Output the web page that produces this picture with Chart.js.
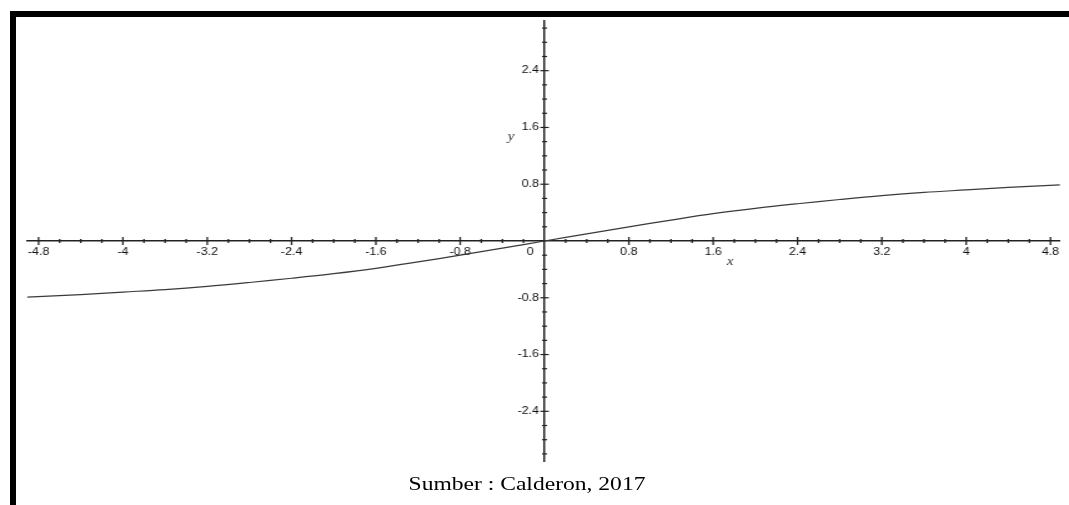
<!DOCTYPE html>
<html>
<head>
<meta charset="utf-8">
<script src="https://cdn.jsdelivr.net/npm/chart.js@4"></script>
<style>
html,body{margin:0;padding:0;background:#fff;width:1069px;height:505px;overflow:hidden;position:relative}
#topbar{position:absolute;left:10px;top:11px;width:1059px;height:6px;background:#000}
#leftbar{position:absolute;left:10px;top:11px;width:6px;height:494px;background:#000}
#wrap{position:absolute;left:0;top:0;width:856px;height:505px;transform:scaleX(1.2488);transform-origin:0 0}
#caption{position:absolute;left:527px;top:474px;font:19px/19px "Liberation Serif","Times New Roman",serif;color:#000;white-space:nowrap;transform:translateX(-50%) scaleX(1.24)}
</style>
</head>
<body>
<div id="topbar"></div>
<div id="leftbar"></div>
<div id="wrap"><canvas id="c" width="856" height="505" style="width:856px;height:505px"></canvas></div>
<div id="caption">Sumber : Calderon, 2017</div>
<script>
// ---- data ----
const xValues = [-4.91, -4.4, -4.0, -3.6, -3.2, -2.8, -2.4, -2.0, -1.6, -1.2, -0.8, -0.4, 0, 0.4, 0.8, 1.2, 1.6, 2.0, 2.4, 2.8, 3.2, 3.6, 4.0, 4.4, 4.89];
const yValues = [-0.79, -0.755, -0.72, -0.685, -0.64, -0.585, -0.525, -0.46, -0.385, -0.295, -0.20, -0.10, 0, 0.10, 0.20, 0.295, 0.385, 0.46, 0.525, 0.585, 0.64, 0.685, 0.72, 0.755, 0.79];

const xMajorTicks = [-4.8, -4, -3.2, -2.4, -1.6, -0.8, 0, 0.8, 1.6, 2.4, 3.2, 4, 4.8];
const xTickLabels = ['-4.8', '-4', '-3.2', '-2.4', '-1.6', '-0.8', '0', '0.8', '1.6', '2.4', '3.2', '4', '4.8'];
const yMajorTicks = [-2.4, -1.6, -0.8, 0.8, 1.6, 2.4];
const yTickLabels = ['-2.4', '-1.6', '-0.8', '0.8', '1.6', '2.4'];
const minorStep = 0.2;
const xMinorRange = [-4.8, 4.8];
const yMinorRange = [-3.0, 3.0];
const xTitle = 'x';
const yTitle = 'y';
const zeroLabel = '0';

// ---- drawing ----
function stepsIn(range, step) {
  const out = [];
  const n = Math.round((range[1] - range[0]) / step);
  for (let i = 0; i <= n; i++) out.push(+(range[0] + i * step).toFixed(4));
  return out;
}
const isMajor = (v, majors) => majors.some(m => Math.abs(m - v) < 1e-6);

const axisDecor = {
  id: 'axisDecor',
  afterDraw(chart) {
    const ctx = chart.ctx;
    const xs = chart.scales.x, ys = chart.scales.y;
    const x0 = xs.getPixelForValue(0), y0 = ys.getPixelForValue(0);
    ctx.save();
    ctx.strokeStyle = '#222';
    ctx.lineWidth = 1.3;
    stepsIn(xMinorRange, minorStep).forEach(v => {
      if (Math.abs(v) < 1e-6) return;
      const px = xs.getPixelForValue(v);
      const h = isMajor(v, xMajorTicks) ? 4 : 2;
      ctx.beginPath(); ctx.moveTo(px, y0 - h); ctx.lineTo(px, y0 + h); ctx.stroke();
    });
    ctx.lineWidth = 1.2;
    stepsIn(yMinorRange, minorStep).forEach(v => {
      if (Math.abs(v) < 1e-6) return;
      const py = ys.getPixelForValue(v);
      const w = isMajor(v, yMajorTicks) ? 3.4 : 2;
      ctx.beginPath(); ctx.moveTo(x0 - w, py); ctx.lineTo(x0 + w, py); ctx.stroke();
    });
    ctx.fillStyle = '#111';
    ctx.font = '10px "Liberation Sans", Arial, sans-serif';
    ctx.textAlign = 'center';
    ctx.textBaseline = 'middle';
    ctx.fillText(zeroLabel, x0 - 11.6, y0 + 11);
    ctx.font = 'italic 12px "Liberation Serif", "Times New Roman", serif';
    ctx.fillStyle = '#333';
    ctx.fillText(xTitle, xs.getPixelForValue(1.76), y0 + 21);
    ctx.fillText(yTitle, xs.getPixelForValue(-0.318), ys.getPixelForValue(1.465));
    ctx.restore();
  }
};

const tickFont = {family: '"Liberation Sans", Arial, sans-serif', size: 10};

new Chart(document.getElementById('c'), {
  type: 'line',
  data: {
    datasets: [{
      data: xValues.map((x, i) => ({x: x, y: yValues[i]})),
      borderColor: '#3a3a3a',
      borderWidth: 1.2,
      pointRadius: 0,
      tension: 0.35,
      fill: false
    }]
  },
  options: {
    responsive: false,
    animation: false,
    devicePixelRatio: 1,
    layout: {padding: {left: 21.6, right: 7.2, top: 21, bottom: 44}},
    plugins: {legend: {display: false}, tooltip: {enabled: false}, title: {display: false}},
    scales: {
      x: {
        type: 'linear', min: -4.91, max: 4.89, position: {y: 0},
        afterBuildTicks: s => { s.ticks = xMajorTicks.map(v => ({value: v})); },
        grid: {display: false},
        border: {display: true, color: '#222', width: 1.5},
        ticks: {
          padding: -3, maxRotation: 0, autoSkip: false, color: '#111', font: tickFont,
          callback: v => (Math.abs(v) < 1e-9 ? '' : xTickLabels[xMajorTicks.indexOf(v)])
        }
      },
      y: {
        type: 'linear', min: -3.1, max: 3.1, position: {x: 0},
        afterBuildTicks: s => { s.ticks = yMajorTicks.map(v => ({value: v})); },
        grid: {display: false},
        border: {display: true, color: '#222', width: 1.5},
        ticks: {display: false}
      },
      yLabels: {
        type: 'linear', axis: 'y', min: -3.1, max: 3.1, position: {x: -0.052},
        afterBuildTicks: s => { s.ticks = yMajorTicks.map(v => ({value: v})); },
        grid: {display: false},
        border: {display: false},
        ticks: {
          padding: 0, autoSkip: false, color: '#111', font: tickFont,
          callback: v => yTickLabels[yMajorTicks.indexOf(v)]
        }
      }
    }
  },
  plugins: [axisDecor]
});
</script>
</body>
</html>
